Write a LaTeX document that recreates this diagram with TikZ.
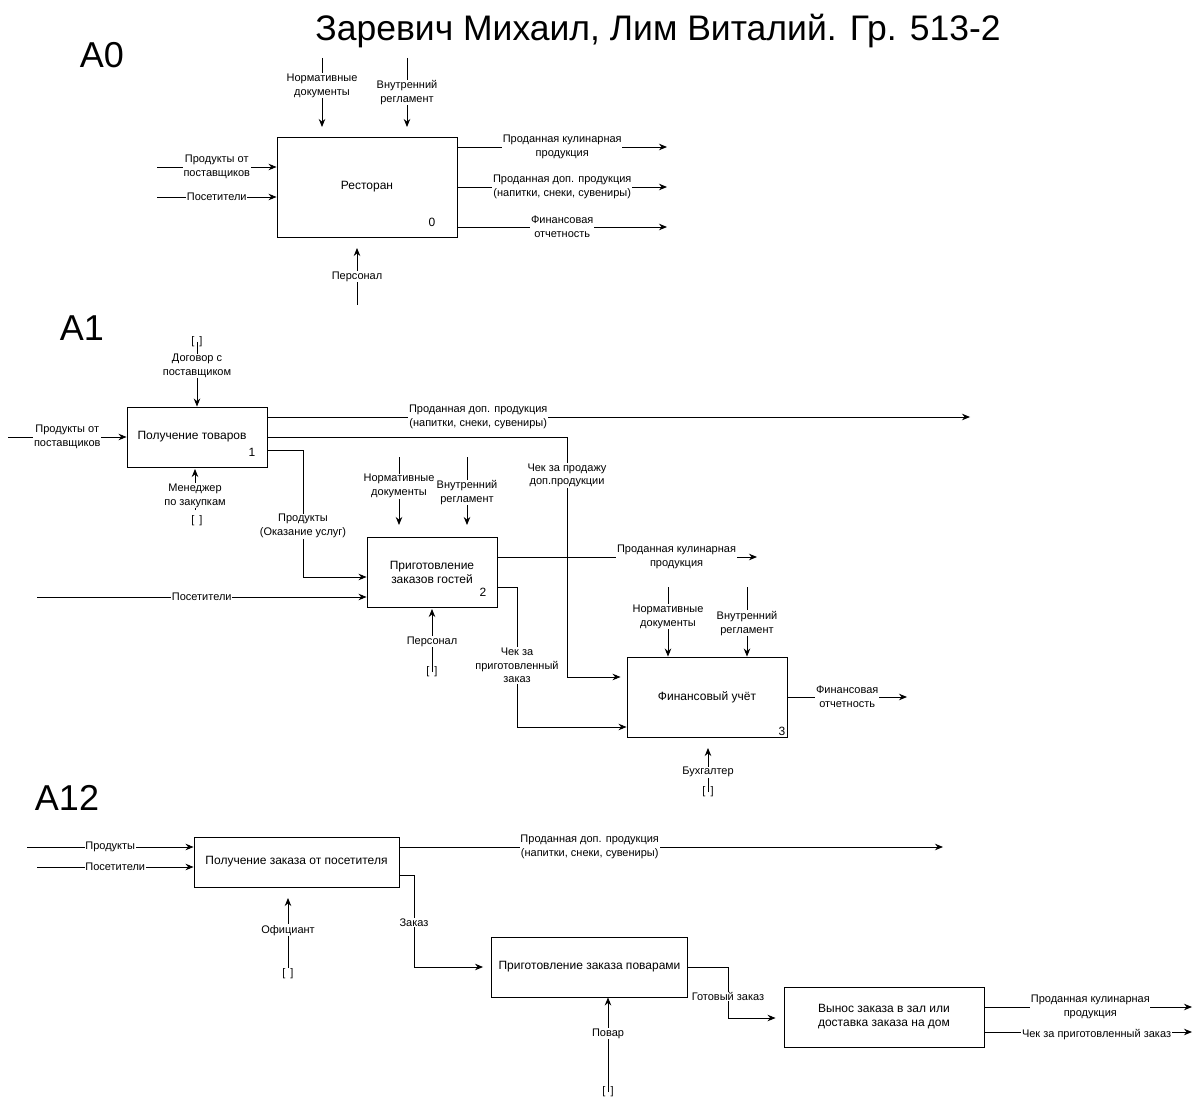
\documentclass[tikz,border=0pt]{standalone}
\usepackage{fontspec}
\setmainfont{Liberation Sans}
\usetikzlibrary{arrows.meta}

\tikzset{
  proc/.style={draw,fill=white,line width=0.9pt,align=center,inner sep=0pt,
    font=\fontsize{12}{14}\selectfont},
  lbl/.style={fill=white,align=center,inner sep=0.6pt,
    font=\fontsize{11}{13.8}\selectfont},
  num/.style={inner sep=0pt,font=\fontsize{12}{14}\selectfont},
  tun/.style={inner sep=0pt,font=\fontsize{11}{13}\selectfont},
  flow/.style={line width=0.9pt,-{Stealth[length=8pt,width=6.5pt]}},
  head/.style={inner sep=0pt,font=\fontsize{36}{40}\selectfont},
}
\newcommand\tunnel{[\hspace{5pt}]}

\begin{document}
\begin{tikzpicture}[x=1pt,y=-1pt]
  \fill[white] (0,0) rectangle (1203,1107);
  \useasboundingbox (0,0) rectangle (1203,1107);

  \node[inner sep=0pt,font=\fontsize{35.5}{38}\selectfont] (title) at (658,31) {Заревич Михаил, Лим Виталий. Гр. 513-2};

  % A0
  \node[head] (ha0) at (102,55) {A0};
  \node[proc,minimum width=180pt,minimum height=100pt] (rest) at (367,187) {Ресторан};
  \node[num] (n0) at (432,222) {0};
  \coordinate (a0p) at (157,167);
  \coordinate (a0v) at (157,197);
  \draw[flow] (a0p) -- (rest.west |- a0p) node[lbl,midway] {Продукты от\\поставщиков};
  \draw[flow] (a0v) -- (rest.west |- a0v) node[lbl,midway] {Посетители};
  \coordinate (a0k) at (667,147);
  \coordinate (a0d) at (667,187);
  \coordinate (a0f) at (667,227);
  \draw[flow] (rest.east |- a0k) -- (a0k) node[lbl,midway] {Проданная кулинарная\\продукция};
  \draw[flow] (rest.east |- a0d) -- (a0d) node[lbl,midway] {Проданная доп. продукция\\(напитки, снеки, сувениры)};
  \draw[flow] (rest.east |- a0f) -- (a0f) node[lbl,midway] {Финансовая\\отчетность};
  \coordinate (a0n) at (322,58);
  \coordinate (a0r) at (407,58);
  \draw[flow] (a0n) -- (322,127) node[lbl,pos=0.4] {Нормативные\\документы};
  \draw[flow] (a0r) -- (407,127) node[lbl,midway] {Внутренний\\регламент};
  \coordinate (a0s) at (357,305);
  \draw[flow] (a0s) -- (357,248) node[lbl,midway] {Персонал};

  % A1
  \node[head] (ha1) at (82,328) {A1};
  \node[proc,minimum width=140pt,minimum height=60pt] (b1) at (197,437) {Получение товаров\hspace{10pt}};
  \node[num] (n1) at (252,452) {1};
  \node[proc,minimum width=130pt,minimum height=70pt] (b2) at (432,572) {Приготовление\\заказов гостей};
  \node[num] (n2) at (483,592) {2};
  \node[proc,minimum width=160pt,minimum height=80pt] (b3) at (707,697) {Финансовый учёт};
  \node[num] (n3) at (782,731) {3};

  \node[tun] (t1) at (197,342) {\tunnel};
  \draw[flow] (t1.center) -- (b1.north) node[lbl,pos=0.37] {Договор с\\поставщиком};
  \node[tun] (t2) at (197,521) {\tunnel};
  \draw[flow] (195,510) -- (195,469) node[lbl,pos=0.35] {Менеджер\\по закупкам};
  \coordinate (b1p) at (8,437);
  \draw[flow] (b1p) -- (b1.west) node[lbl,midway] {Продукты от\\поставщиков};
  \coordinate (b1d) at (970,417);
  \draw[flow] (b1.east |- b1d) -- (b1d) node[lbl,pos=0.3] {Проданная доп. продукция\\(напитки, снеки, сувениры)};
  \coordinate (k1) at (567,677);
  \draw[flow] (b1.east) -| (k1) node[lbl,pos=0.58] {Чек за продажу\\доп.продукции} -- ([xshift=-6pt]b3.west |- k1);
  \coordinate (k2) at (303,577);
  \draw[flow] ([yshift=-13pt]b1.east) -| (k2) node[lbl,pos=0.8] {Продукты\\(Оказание услуг)} -- (b2.west |- k2);
  \coordinate (b2v) at (37,597);
  \draw[flow] (b2v) -- (b2.west |- b2v) node[lbl,midway] {Посетители};
  \coordinate (b2n) at (399,457);
  \coordinate (b2r) at (467,457);
  \draw[flow] (b2n) -- (399,525) node[lbl,pos=0.43] {Нормативные\\документы};
  \draw[flow] (b2r) -- (467,525) node[lbl,pos=0.52] {Внутренний\\регламент};
  \node[tun] (t3) at (432,672) {\tunnel};
  \draw[flow] (t3.center) -- (432,609) node[lbl,pos=0.48] {Персонал};
  \coordinate (b2k) at (757,557);
  \draw[flow] (b2.east |- b2k) -- (b2k) node[lbl,pos=0.69] {Проданная кулинарная\\продукция};
  \coordinate (k3) at (517,727);
  \draw[flow] ([yshift=-15pt]b2.east) -| (k3) node[lbl,pos=0.78] {Чек за\\приготовленный\\заказ} -- (b3.west |- k3);
  \coordinate (b3n) at (668,587);
  \coordinate (b3r) at (747,587);
  \draw[flow] (b3n) -- (b3n |- b3.north) node[lbl,pos=0.43] {Нормативные\\документы};
  \draw[flow] (b3r) -- (b3r |- b3.north) node[lbl,pos=0.52] {Внутренний\\регламент};
  \node[tun] (t4) at (708,792) {\tunnel};
  \draw[flow] (t4.center) -- (708,748) node[lbl,pos=0.45] {Бухгалтер};
  \coordinate (b3f) at (907,697);
  \draw[flow] (b3.east) -- (b3f) node[lbl,midway] {Финансовая\\отчетность};

  % A12
  \node[head] (ha12) at (67,798) {A12};
  \node[proc,minimum width=205pt,minimum height=50pt] (c1) at (296.5,862) {Получение заказа от посетителя};
  \node[proc,minimum width=196pt,minimum height=60pt] (c2) at (589.5,967) {Приготовление заказа поварами};
  \node[proc,minimum width=200pt,minimum height=60pt] (c3) at (884,1017) {Вынос заказа в зал или\\доставка заказа на дом};

  \coordinate (c1p) at (27,847);
  \coordinate (c1v) at (37,867);
  \draw[flow] (c1p) -- (c1.west |- c1p) node[lbl,midway] {Продукты};
  \draw[flow] (c1v) -- (c1.west |- c1v) node[lbl,midway] {Посетители};
  \coordinate (c1d) at (943,847);
  \draw[flow] (c1.east |- c1d) -- (c1d) node[lbl,pos=0.35] {Проданная доп. продукция\\(напитки, снеки, сувениры)};
  \node[tun] (t5) at (288,974) {\tunnel};
  \draw[flow] (288,968) -- (288,898) node[lbl,pos=0.54] {Официант};
  \coordinate (k4) at (414,967);
  \draw[flow] ([yshift=-13pt]c1.east) -| (k4) node[lbl,pos=0.76] {Заказ} -- ([xshift=-8pt]c2.west |- k4);
  \node[tun] (t6) at (608,1092) {\tunnel};
  \draw[flow] (t6.center) -- (t6.center |- c2.south) node[lbl,pos=0.62] {Повар};
  \coordinate (k5) at (728,1018);
  \draw[flow] (c2.east) -| (k5) node[lbl,pos=0.79] {Готовый заказ} -- ([xshift=-8pt]c3.west |- k5);
  \coordinate (c3k) at (1192,1007);
  \coordinate (c3c) at (1192,1032);
  \draw[flow] (c3.east |- c3k) -- (c3k) node[lbl,pos=0.51] {Проданная кулинарная\\продукция};
  \draw[flow] (c3.east |- c3c) -- (c3c) node[lbl,pos=0.54,yshift=-3pt] {Чек за приготовленный заказ};
\end{tikzpicture}
\end{document}
